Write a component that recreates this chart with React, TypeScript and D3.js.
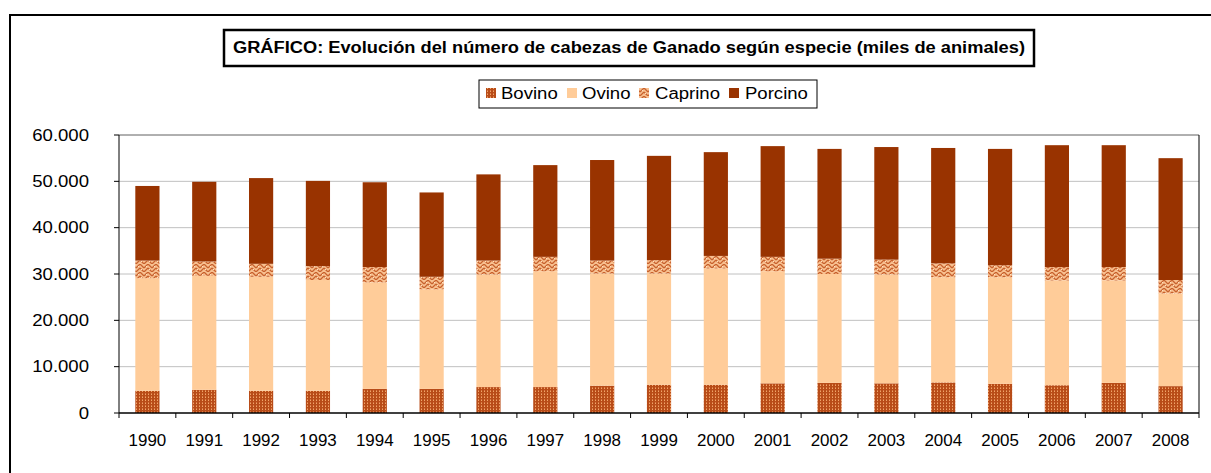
import React from "react";
import * as d3 from "d3";

// miles de animales
const years = ["1990", "1991", "1992", "1993", "1994", "1995", "1996", "1997", "1998", "1999", "2000", "2001", "2002", "2003", "2004", "2005", "2006", "2007", "2008"];
const bovino = [4800, 5000, 4800, 4800, 5200, 5200, 5600, 5600, 5900, 6100, 6100, 6400, 6500, 6400, 6600, 6300, 6000, 6500, 5800];
const ovino = [24300, 24600, 24600, 23900, 23000, 21500, 24300, 25000, 24200, 24000, 25100, 24200, 23500, 23500, 22700, 23000, 22600, 22100, 20000];
const caprino = [3800, 3100, 2800, 3000, 3300, 2700, 3000, 3100, 2800, 2900, 2700, 3100, 3300, 3200, 3000, 2600, 2900, 2900, 2900];
const porcino = [16100, 17200, 18500, 18400, 18300, 18200, 18600, 19800, 21700, 22500, 22400, 23900, 23700, 24300, 24900, 25100, 26300, 26300, 26300];
const yTicks = [0, 10000, 20000, 30000, 40000, 50000, 60000];

const SERIES = [
  { name: "Bovino", values: bovino, fill: "url(#pBovino)" },
  { name: "Ovino", values: ovino, fill: "#FFCC99" },
  { name: "Caprino", values: caprino, fill: "url(#pCaprino)" },
  { name: "Porcino", values: porcino, fill: "#993300" },
];

const CFG = {
  width: 1211,
  height: 473,
  plot: { left: 119, right: 1199, top: 135, bottom: 413 },
  font: "'Liberation Sans', Arial, sans-serif",
  grid: "#C0C0C0",
  stretch: 1.16, // the original text is a bit wider than plain Arial
};

const fmt = d3
  .formatLocale({ decimal: ",", thousands: ".", grouping: [3], currency: ["", ""] })
  .format(",d");

const legendItems = [
  { name: "Bovino", fill: "url(#pBovino)", sx: 486, tx: 501 },
  { name: "Ovino", fill: "#FFCC99", sx: 567, tx: 582 },
  { name: "Caprino", fill: "url(#pCaprino)", sx: 639, tx: 655 },
  { name: "Porcino", fill: "#993300", sx: 729, tx: 745 },
];

const Label = ({ x, y, anchor = "start", sx = CFG.stretch, children }: any) => (
  <g transform={`translate(${x},${y}) scale(${sx},1)`}>
    <text x={0} y={0} textAnchor={anchor} fontSize={16} fill="#000">
      {children}
    </text>
  </g>
);

export default function App() {
  const { plot } = CFG;
  const x = d3
    .scaleBand<string>()
    .domain(years)
    .range([plot.left, plot.right])
    .paddingInner(0.5745)
    .paddingOuter(0.287);
  const y = d3.scaleLinear().domain([0, 60000]).range([plot.bottom, plot.top]);

  const rows = years.map((yr, i) => {
    const o: any = { year: yr };
    SERIES.forEach((s) => (o[s.name] = s.values[i]));
    return o;
  });
  const stacked = d3.stack<any>().keys(SERIES.map((s) => s.name))(rows);
  const step = (plot.right - plot.left) / years.length;

  return (
    <div style={{ position: "fixed", left: 0, top: 0 }}>
      <svg width={CFG.width} height={CFG.height} style={{ display: "block", background: "#fff" }} fontFamily={CFG.font}>
        <defs>
          <pattern id="pBovino" width="3" height="3" patternUnits="userSpaceOnUse">
            <rect width="3" height="3" fill="#B84C18" />
            <rect x="1" y="1" width="1" height="1" fill="#F0A56A" />
            <rect x="1" y="0" width="1" height="1" fill="#D97A45" />
          </pattern>
          <pattern id="pCaprino" width="8" height="8" patternUnits="userSpaceOnUse">
            <rect width="8" height="8" fill="#F8C090" />
            <path d="M0,4 L4,0 M0,8 L4,4 M4,0 L8,4 M4,4 L8,8" stroke="#C8622E" strokeWidth="1.3" fill="none" />
            <path d="M2,2 L3,3 M6,6 L5,5" stroke="#FFE0C0" strokeWidth="1" />
          </pattern>
        </defs>

        {/* outer frame */}
        <rect x={10} y={15} width={1400} height={600} fill="none" stroke="#000" strokeWidth={2} />

        {/* title */}
        <rect x={224} y={30} width={810} height={36} fill="#fff" stroke="#000" strokeWidth={2.5} />
        <text x={629} y={53} textAnchor="middle" fontSize={16} fontWeight="bold" fill="#000" textLength={792} lengthAdjust="spacingAndGlyphs">
          GRÁFICO: Evolución del número de cabezas de Ganado según especie (miles de animales)
        </text>

        {/* legend */}
        <rect x={479} y={80} width={338} height={28} fill="#fff" stroke="#000" strokeWidth={1} />
        {legendItems.map((it) => (
          <g key={it.name}>
            <rect x={it.sx} y={88} width={10} height={10} fill={it.fill} />
            <Label x={it.tx} y={99}>
              {it.name}
            </Label>
          </g>
        ))}

        {/* gridlines */}
        {yTicks.slice(1).map((t) => (
          <line key={t} x1={plot.left} x2={plot.right} y1={y(t)} y2={y(t)} stroke={CFG.grid} strokeWidth={1} />
        ))}

        {/* bars */}
        {stacked.map((layer, li) => (
          <g key={layer.key} fill={SERIES[li].fill}>
            {layer.map((d, i) => (
              <rect key={i} x={x(years[i])} y={y(d[1])} width={x.bandwidth()} height={y(d[0]) - y(d[1])} />
            ))}
          </g>
        ))}

        {/* plot border */}
        <line x1={plot.left} x2={plot.right} y1={plot.top} y2={plot.top} stroke="#808080" strokeWidth={1} />
        <line x1={plot.right} x2={plot.right} y1={plot.top} y2={plot.bottom} stroke="#000" strokeWidth={1} />
        <line x1={plot.left} x2={plot.left} y1={plot.top} y2={plot.bottom} stroke="#000" strokeWidth={1} />
        <line x1={plot.left} x2={plot.right} y1={plot.bottom} y2={plot.bottom} stroke="#000" strokeWidth={1.5} />

        {/* y axis */}
        {yTicks.map((t) => (
          <g key={t}>
            <line x1={plot.left - 5} x2={plot.left} y1={y(t)} y2={y(t)} stroke="#000" />
            <Label x={89} y={y(t) + 5.5} anchor="end">
              {fmt(t)}
            </Label>
          </g>
        ))}

        {/* x axis */}
        {d3.range(years.length + 1).map((i) => (
          <line key={i} x1={plot.left + i * step} x2={plot.left + i * step} y1={plot.bottom} y2={plot.bottom + 5} stroke="#000" />
        ))}
        {years.map((yr) => (
          <Label key={yr} x={(x(yr) as number) + x.bandwidth() / 2} y={446} anchor="middle" sx={1.06}>
            {yr}
          </Label>
        ))}
      </svg>
    </div>
  );
}
